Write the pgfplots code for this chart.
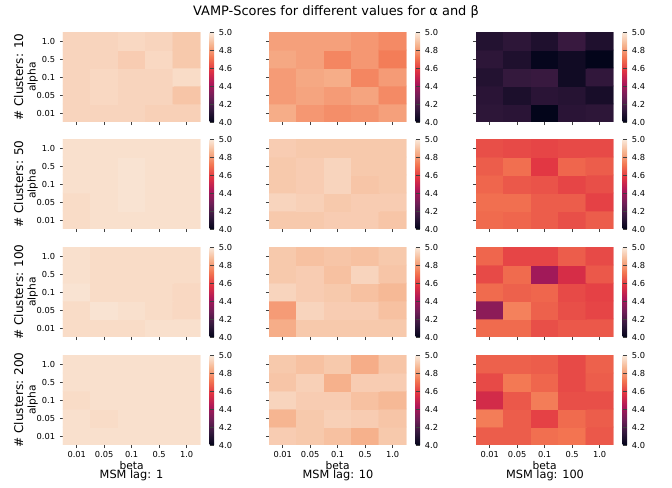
\documentclass[border=0pt]{standalone}
\usepackage{pgfplots}
\pgfplotsset{compat=1.18}
\usepackage{pgfplotstable}
\usepackage{fontspec}
\setmainfont{DejaVu Sans}

\pgfplotsset{
  colormap={rocket}{rgb255=(3,5,26) rgb255=(53,25,62) rgb255=(112,31,87) rgb255=(173,23,89) rgb255=(225,51,66) rgb255=(243,118,81) rgb255=(246,180,143) rgb255=(250,235,221)},
  colorbar shift/.style={xshift=7pt},
  hm/.style={
    scale only axis, width=103pt, height=67.5pt,
    xmin=-0.5, xmax=4.5, ymin=-0.5, ymax=4.5,
    colormap name=rocket, point meta min=4, point meta max=5,
    axis line style={draw=none},
    xtick={0,...,4}, ytick={0,...,4},
    xticklabels={}, yticklabels={},
    xtick pos=bottom, ytick pos=left,
    tick align=outside, major tick length=2.4pt,
    tick style={color=black!75, line width=0.5pt},
    tick label style={font=\fontsize{6.2}{7}\selectfont},
    xticklabel style={yshift=1pt},
    /pgf/number format/assume math mode=true,
    colorbar,
    colorbar style={
      width=3.4pt,
      axis line style={draw=none},
      ytick={4,4.2,4.4,4.6,4.8,5},
      major tick length=1.6pt,
      tick style={color=black!75, line width=0.5pt},
      yticklabel style={font=\fontsize{6.2}{7}\selectfont, /pgf/number format/.cd, fixed, fixed zerofill, precision=1, assume math mode=true},
    },
  },
  ylab/.style={yticklabels={0.01,0.05,0.1,0.5,1.0}},
  xlab/.style={xticklabels={0.01,0.05,0.1,0.5,1.0}, xlabel={beta},
     xlabel style={font=\fontsize{8}{9}\selectfont, at={(axis description cs:0.5,-0.225)}, anchor=center}},
}

% lag 1: rows y=0 (alpha 0.01) .. y=4 (alpha 1.0), x=0 (beta 0.01) .. x=4 (beta 1.0)
\pgfplotstableread{
x y c10 c50 c100 c200
0 0 4.94 4.96 4.96 4.97
1 0 4.94 4.97 4.96 4.97
2 0 4.94 4.97 4.96 4.97
3 0 4.93 4.97 4.97 4.97
4 0 4.93 4.97 4.97 4.97
0 1 4.94 4.96 4.96 4.97
1 1 4.95 4.97 4.98 4.96
2 1 4.94 4.98 4.97 4.97
3 1 4.94 4.97 4.96 4.97
4 1 4.90 4.97 4.95 4.97
0 2 4.94 4.97 4.98 4.96
1 2 4.95 4.97 4.96 4.97
2 2 4.94 4.98 4.96 4.97
3 2 4.94 4.97 4.96 4.97
4 2 4.96 4.97 4.95 4.97
0 3 4.94 4.97 4.97 4.97
1 3 4.94 4.97 4.96 4.97
2 3 4.92 4.98 4.96 4.97
3 3 4.95 4.97 4.96 4.97
4 3 4.91 4.97 4.96 4.97
0 4 4.94 4.97 4.97 4.97
1 4 4.94 4.97 4.96 4.97
2 4 4.95 4.97 4.96 4.97
3 4 4.94 4.97 4.96 4.97
4 4 4.91 4.97 4.96 4.97
}\lagone

\pgfplotstableread{
x y c10 c50 c100 c200
0 0 4.84 4.91 4.84 4.92
1 0 4.79 4.91 4.91 4.91
2 0 4.77 4.92 4.91 4.89
3 0 4.78 4.92 4.91 4.85
4 0 4.81 4.90 4.91 4.91
0 1 4.80 4.94 4.80 4.86
1 1 4.82 4.93 4.94 4.91
2 1 4.80 4.91 4.92 4.93
3 1 4.82 4.92 4.92 4.92
4 1 4.76 4.92 4.89 4.90
0 2 4.80 4.91 4.94 4.94
1 2 4.83 4.92 4.92 4.92
2 2 4.84 4.94 4.91 4.92
3 2 4.75 4.90 4.89 4.89
4 2 4.80 4.91 4.87 4.87
0 3 4.83 4.91 4.91 4.90
1 3 4.81 4.92 4.92 4.93
2 3 4.75 4.94 4.89 4.85
3 3 4.79 4.91 4.94 4.92
4 3 4.73 4.91 4.90 4.92
0 4 4.81 4.92 4.91 4.91
1 4 4.81 4.91 4.89 4.89
2 4 4.81 4.91 4.90 4.91
3 4 4.79 4.91 4.89 4.84
4 4 4.76 4.91 4.91 4.90
}\lagten

\pgfplotstableread{
x y c10 c50 c100 c200
0 0 4.12 4.69 4.69 4.66
1 0 4.11 4.68 4.69 4.66
2 0 4.00 4.66 4.63 4.70
3 0 4.11 4.63 4.65 4.71
4 0 4.12 4.66 4.65 4.65
0 1 4.11 4.70 4.35 4.73
1 1 4.07 4.70 4.74 4.66
2 1 4.11 4.66 4.67 4.60
3 1 4.10 4.66 4.63 4.69
4 1 4.06 4.60 4.61 4.66
0 2 4.09 4.68 4.69 4.53
1 2 4.14 4.65 4.67 4.65
2 2 4.15 4.64 4.68 4.73
3 2 4.04 4.61 4.62 4.63
4 2 4.13 4.63 4.60 4.63
0 3 4.12 4.66 4.62 4.62
1 3 4.08 4.70 4.69 4.72
2 3 4.01 4.58 4.40 4.68
3 3 4.04 4.68 4.54 4.62
4 3 4.00 4.66 4.65 4.66
0 4 4.09 4.63 4.68 4.67
1 4 4.12 4.62 4.61 4.67
2 4 4.08 4.61 4.61 4.66
3 4 4.15 4.62 4.66 4.62
4 4 4.08 4.62 4.62 4.67
}\lagh

\newcommand{\panel}[5]{% x, y, table, column, extra opts
  \begin{axis}[hm, at={(#1,#2)}, anchor=north west, #5]
    \addplot[matrix plot*, mesh/cols=5, point meta=explicit] table[x=x, y=y, meta=#4] {#3};
  \end{axis}}

\begin{document}
\begin{tikzpicture}
\useasboundingbox (0,0) rectangle (504pt,365.25pt);
\node[font=\fontsize{9.7}{11}\selectfont] at (252pt,356.5pt) {VAMP-Scores for different values for α and β};

% row tops: 341.25, 261, 180, 99 ; col lefts 47.25, 201.75, 357
\panel{47.25pt}{341.25pt}{\lagone}{c10}{ylab}
\panel{201.75pt}{341.25pt}{\lagten}{c10}{}
\panel{357pt}{341.25pt}{\lagh}{c10}{}

\panel{47.25pt}{261pt}{\lagone}{c50}{ylab}
\panel{201.75pt}{261pt}{\lagten}{c50}{}
\panel{357pt}{261pt}{\lagh}{c50}{}

\panel{47.25pt}{180pt}{\lagone}{c100}{ylab}
\panel{201.75pt}{180pt}{\lagten}{c100}{}
\panel{357pt}{180pt}{\lagh}{c100}{}

\panel{47.25pt}{99pt}{\lagone}{c200}{ylab,xlab}
\panel{201.75pt}{99pt}{\lagten}{c200}{xlab}
\panel{357pt}{99pt}{\lagh}{c200}{xlab}

% row labels
\foreach \yc/\lab in {307.5/10, 227.25/50, 146.25/100, 65.25/200}{
  \node[rotate=90, font=\fontsize{9}{10}\selectfont] at (14pt,\yc pt) {\# Clusters: \lab};
  \node[rotate=90, font=\fontsize{8}{9}\selectfont] at (24.5pt,\yc pt) {alpha};
}
% column labels
\node[font=\fontsize{8.5}{9}\selectfont] at (98.6pt,8.5pt) {MSM lag: 1};
\node[font=\fontsize{8.5}{9}\selectfont] at (253.5pt,8.5pt) {MSM lag: 10};
\node[font=\fontsize{8.5}{9}\selectfont] at (408.75pt,8.5pt) {MSM lag: 100};
\end{tikzpicture}
\end{document}
